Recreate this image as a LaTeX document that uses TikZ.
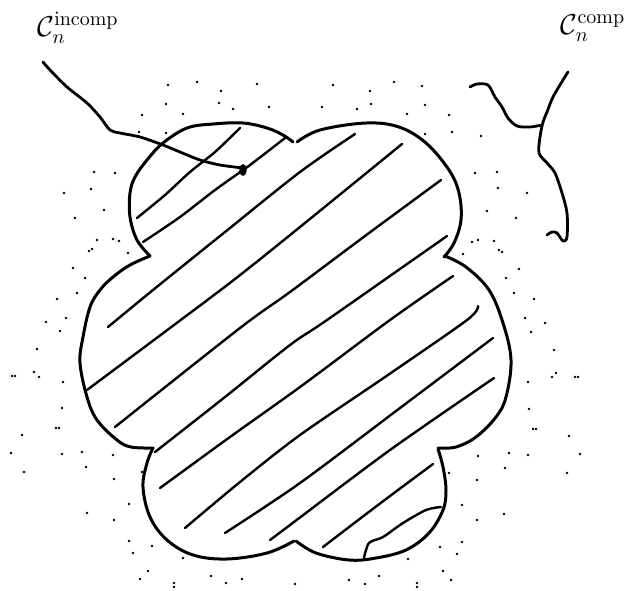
\documentclass[tikz,border=0pt]{standalone}
\usepackage{amsmath,amssymb}
\usepackage{tikz}
\tikzset{
  rim/.style={line width=1.5pt,line join=round,line cap=round},
  hatch/.style={line width=1.2pt,line cap=round,line join=round},
  wire/.style={line width=1.4pt,line cap=round,line join=round},
  lbl/.style={font=\Large,inner sep=0pt}
}
\begin{document}
\begin{tikzpicture}[x=0.5pt,y=-0.5pt]
\useasboundingbox (0,0) rectangle (632,590);
% outline, one lobe at a time
\draw[rim] plot[smooth,tension=0.6] coordinates {(293,142)(283,135)(267,128)(243,123)(213,124)(187,128)(163,143)(147,160)(135,177)(130,193)(130,217)(137,240)(150,256)};
\draw[rim] plot[smooth,tension=0.6] coordinates {(297,142)(320,130)(366,123)(399,127)(426,143)(449,170)(459,193)(461,220)(454,243)(444,257)};
\draw[rim] plot[smooth,tension=0.6] coordinates {(445,256)(466,267)(489,290)(503,323)(511,360)(506,397)(496,417)(476,437)(456,447)(438,448)};
\draw[rim] plot[smooth,tension=0.6] coordinates {(438,449)(443,467)(446,490)(443,510)(429,533)(406,550)(376,558)(349,560)(316,553)(296,541)};
\draw[rim] plot[smooth,tension=0.6] coordinates {(294,541)(267,553)(227,559)(193,555)(167,540)(150,517)(143,487)(147,463)(153,448)};
\draw[rim] plot[smooth,tension=0.6] coordinates {(153,448)(131,447)(117,440)(97,420)(87,397)(80,363)(83,337)(90,307)(100,290)(113,277)(130,265)(150,256)};
% hatching
\draw[hatch] plot[smooth] coordinates {(137,218)(165,195)(190,172)(215,152)(240,128)};
\draw[hatch] plot[smooth] coordinates {(143,242)(180,217)(215,190)(250,165)(285,138)};
\draw[hatch] plot[smooth] coordinates {(108,327)(153,290)(225,232)(300,172)(355,134)};
\draw[hatch] plot[smooth] coordinates {(87,390)(170,328)(235,279)(300,227)(402,144)};
\draw[hatch] plot[smooth] coordinates {(115,427)(240,328)(290,292)(365,236)(441,180)};
\draw[hatch] plot[smooth] coordinates {(155,452)(225,397)(290,345)(327,320)(447,236)};
\draw[hatch] plot[smooth] coordinates {(160,488)(230,437)(300,387)(390,320)(453,276)};
\draw[hatch] plot[smooth] coordinates {(185,528)(240,482)(300,435)(385,377)(467,320)(478,306)};
\draw[hatch] plot[smooth] coordinates {(225,533)(300,483)(400,408)(493,338)};
\draw[hatch] plot[smooth] coordinates {(270,540)(290,525)(390,450)(494,378)};
\draw[hatch] plot[smooth] coordinates {(323,547)(378,505)(433,464)};
\draw[hatch] plot[smooth] coordinates {(364,558)(369,543)(383,537)(403,523)(426,510)(441,507)};
% specks round the shape
\foreach \x/\y in {168/85,197/82,221/91,257/84,166/104,219/103,233/109,269/107,142/115,183/114,139/132,166/133,
  94/172,115/173,64/193,91/189,104/210,75/218,97/240,113/239,119/241,89/251,92/249,128/253,73/268,85/278,77/293,57/299,
  333/85,370/91,394/82,422/86,322/107,357/109,371/104,407/114,425/105,449/115,425/134,452/132,481/136,
  475/173,497/172,498/188,527/193,487/211,516/218,472/242,478/240,494/241,499/250,502/252,463/254,519/269,506/278,514/293,534/299,
  66/318,46/322,60/331,37/349,12/376,15/376,34/372,39/377,63/382,62/408,56/428,59/428,22/435,11/453,62/454,82/452,113/455,
  86/467,24/472,142/472,114/479,129/504,87/513,114/520,129/541,152/546,133/553,183/558,148/571,140/579,211/576,226/583,
  242/579,174/583,174/587,295/584,
  525/318,545/323,531/332,554/350,556/373,552/377,575/377,578/377,528/382,529/409,533/429,536/429,569/436,580/454,
  509/453,528/455,478/456,505/468,449/473,567/473,477/480,462/505,504/514,477/520,462/542,440/547,457/554,408/559,
  443/571,451/580,379/576,365/584,349/580,417/583,417/587}
  \fill (\x,\y) circle (0.65pt);
% labels and their curves
\node[lbl] (incomp) at (78,28) {$\mathcal{C}_n^{\mathrm{incomp}}$};
\node[lbl] (comp) at (593,28) {$\mathcal{C}_n^{\mathrm{comp}}$};
\draw[wire] plot[smooth,tension=0.5] coordinates {(43,62)(50,70)(67,87)(87,103)(100,117)(110,130)(120,133)(140,137)(163,145)(180,152)(200,160)(220,165)(243,168)};
\fill (243,170) ellipse (1.8pt and 3pt);
\draw[wire] plot[smooth,tension=0.5] coordinates {(568,72)(563,80)(553,97)(547,112)(543,122)(540,137)(539,153)(547,163)(555,173)(562,193)(567,213)(567,237)(563,241)(557,233)(552,232)(547,235)};
\draw[wire] plot[smooth,tension=0.5] coordinates {(470,87)(477,84)(488,85)(495,97)(502,107)(508,118)(517,126)(530,127)(542,125)};
\end{tikzpicture}
\end{document}
